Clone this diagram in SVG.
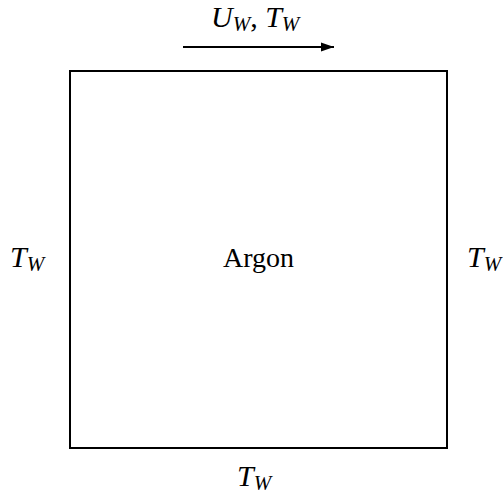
<svg xmlns="http://www.w3.org/2000/svg" width="503" height="504" viewBox="0 0 503 504">
<style>
.m{font-family:'Liberation Serif','Times New Roman',serif;font-style:italic;font-size:30px;fill:#000}
.s{font-size:21px}
.r{font-family:'Liberation Serif','Times New Roman',serif;font-size:28px;fill:#000}
</style>
<defs>
<marker id="ah" viewBox="0 0 10 10" refX="10" refY="5" markerWidth="6.5" markerHeight="6.5" markerUnits="strokeWidth" orient="auto">
<path d="M0,1.5 L10,5 L0,8.5 z" fill="#000"/>
</marker>
</defs>
<rect width="503" height="504" fill="#fff"/>
<g id="box">
<rect x="70" y="71" width="377" height="377" fill="none" stroke="#000" stroke-width="2"/>
<text class="r" x="258.5" y="267" text-anchor="middle">Argon</text>
</g>
<g id="connectors">
<line x1="183" y1="47" x2="334" y2="47" stroke="#000" stroke-width="2" marker-end="url(#ah)"/>
</g>
<g id="top-label">
<text class="m" x="211" y="27">U<tspan class="s" dy="4">W</tspan><tspan dy="-4" font-style="normal">, </tspan>T<tspan class="s" dy="4">W</tspan></text>
</g>
<g id="left-label">
<text class="m" x="10" y="267">T<tspan class="s" dy="4">W</tspan></text>
</g>
<g id="right-label">
<text class="m" x="467" y="267">T<tspan class="s" dy="4">W</tspan></text>
</g>
<g id="bottom-label">
<text class="m" x="237" y="486">T<tspan class="s" dy="4">W</tspan></text>
</g>
</svg>
